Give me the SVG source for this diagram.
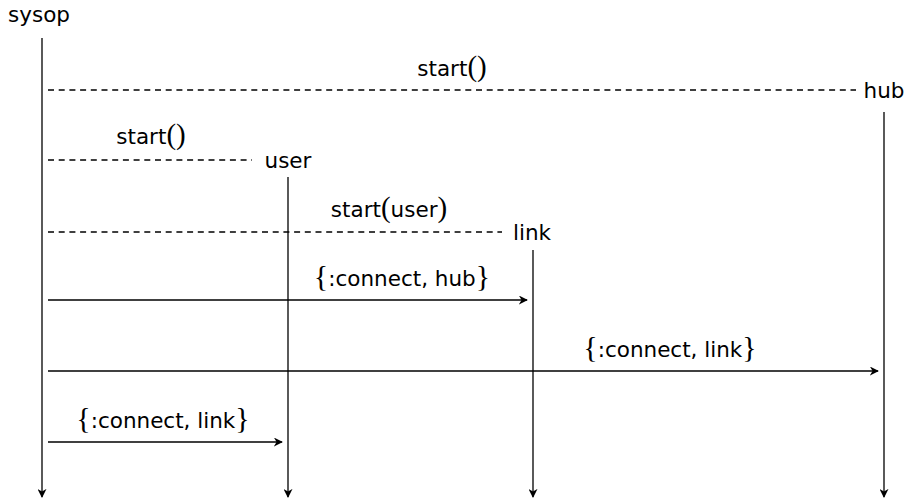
<svg xmlns="http://www.w3.org/2000/svg" width="908" height="503" viewBox="0 0 908 503">
  <style>
    .lbl { font-family: "DejaVu Sans", sans-serif; font-size: 21.5px; fill: #000; text-anchor: middle; }
    .big { font-family: "Liberation Serif", serif; font-size: 29px; }
    .brace { font-family: "Liberation Serif", serif; font-size: 30px; }
    .life { stroke: #000; stroke-width: 1.3; fill: none; marker-end: url(#tip); }
    .msg { stroke: #000; stroke-width: 1.3; fill: none; marker-end: url(#tip); }
    .create { stroke: #000; stroke-width: 1.3; fill: none; stroke-dasharray: 6 4.7; }
  </style>
  <defs>
    <marker id="tip" viewBox="0 0 10 10" refX="9" refY="5" markerWidth="9" markerHeight="9" markerUnits="userSpaceOnUse" orient="auto">
      <path d="M0,0 L10,5 L0,10 L3,5 Z" fill="#000"/>
    </marker>
  </defs>

  <!-- lifelines with their names -->
  <g id="sysop">
    <text class="lbl" x="39" y="22">sysop</text>
    <line class="life" x1="42" y1="38" x2="42" y2="497"/>
  </g>
  <g id="hub">
    <text class="lbl" x="884" y="98">hub</text>
    <line class="life" x1="884" y1="112" x2="884" y2="497"/>
  </g>
  <g id="user">
    <text class="lbl" x="288" y="168">user</text>
    <line class="life" x1="288" y1="177" x2="288" y2="497"/>
  </g>
  <g id="link">
    <text class="lbl" x="532" y="240">link</text>
    <line class="life" x1="533" y1="250" x2="533" y2="497"/>
  </g>

  <!-- creation (dashed) and message (solid) arrows -->
  <g id="connectors">
    <line class="create" x1="48" y1="90" x2="856" y2="90"/>
    <text class="lbl" x="452" y="76">start<tspan class="big">()</tspan></text>
    <line class="create" x1="48" y1="160" x2="252" y2="160"/>
    <text class="lbl" x="151" y="144">start<tspan class="big">()</tspan></text>
    <line class="create" x1="48" y1="232" x2="502" y2="232"/>
    <text class="lbl" x="389" y="217">start<tspan class="big">(</tspan>user<tspan class="big">)</tspan></text>

    <line class="msg" x1="48" y1="300" x2="527" y2="300"/>
    <text class="lbl" x="402" y="286"><tspan class="brace">{</tspan>:connect, hub<tspan class="brace">}</tspan></text>
    <line class="msg" x1="48" y1="371" x2="878" y2="371"/>
    <text class="lbl" x="670" y="357"><tspan class="brace">{</tspan>:connect, link<tspan class="brace">}</tspan></text>
    <line class="msg" x1="48" y1="442" x2="282" y2="442"/>
    <text class="lbl" x="163" y="428"><tspan class="brace">{</tspan>:connect, link<tspan class="brace">}</tspan></text>
  </g>
</svg>
